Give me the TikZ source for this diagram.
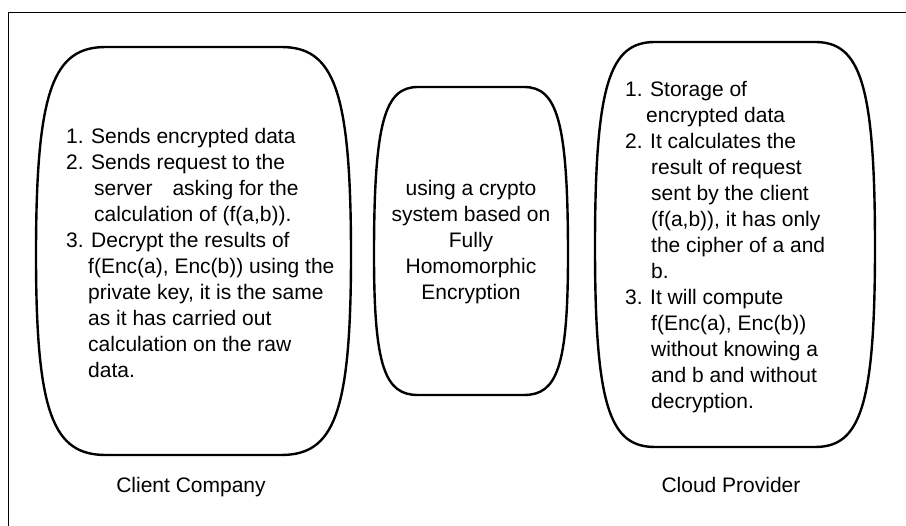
\documentclass[tikz,border=0pt]{standalone}
\usepackage{fontspec}
\setmainfont{Liberation Sans}
% rounded outline: left, right, top, bottom, corner width, height of widest point
\newcommand{\myblob}[6]{%
  \draw[myblobline] ({#1+#5},#3) -- ({#2-#5},#3)
  .. controls ({#2-0.25*#5},#3) and (#2,{#6-0.8*(#6-#3)}) .. (#2,#6)
  .. controls (#2,{#6+0.8*(#4-#6)}) and ({#2-0.25*#5},#4) .. ({#2-#5},#4)
  -- ({#1+#5},#4)
  .. controls ({#1+0.25*#5},#4) and (#1,{#6+0.8*(#4-#6)}) .. (#1,#6)
  .. controls (#1,{#6-0.8*(#6-#3)}) and ({#1+0.25*#5},#3) .. cycle;}
\newcommand{\mynum}[1]{\makebox[25pt][l]{#1}}
\newcommand{\myind}[1]{\hspace*{#1pt}}
\newcommand{\mycline}[1]{\hbox to 180pt{\hfil#1\hfil}}
\begin{document}
\begin{tikzpicture}[x=1pt,y=-1pt,
    myblobline/.style={line width=2.4pt},
    mytxt/.style={inner sep=0pt,font=\fontsize{21}{26}\selectfont}]
  \useasboundingbox (0,0) rectangle (906,526);
  \draw[line width=1pt] (906,12.5) -- (8,12.5) -- (8,526);
  \myblob{36}{351}{47}{455}{70}{255}
  \myblob{374}{568}{87}{395}{44}{255}
  \myblob{595}{875}{42}{447}{60}{247}
  \node[mytxt,anchor=base west] (clienttxt) at (66,143.3) {\vtop{%
      \hbox{\mynum{1.}Sends encrypted data}
      \hbox{\mynum{2.}Sends request to the}
      \hbox{\myind{28}server\hspace{20pt}asking for the}
      \hbox{\myind{28}calculation of (f(a,b)).}
      \hbox{\mynum{3.}Decrypt the results of}
      \hbox{\myind{22}f(Enc(a), Enc(b)) using the}
      \hbox{\myind{22}private key, it is the same}
      \hbox{\myind{22}as it has carried out}
      \hbox{\myind{22}calculation on the raw}
      \hbox{\myind{22}data.}}};
  \node[mytxt,anchor=base] (cryptotxt) at (471,196) {\vtop{%
      \mycline{using a crypto}
      \mycline{system based on}
      \mycline{Fully}
      \mycline{Homomorphic}
      \mycline{Encryption}}};
  \node[mytxt,anchor=base west] (cloudtxt) at (625,96.7) {\vtop{%
      \hbox{\mynum{1.}Storage of}
      \hbox{\myind{21}encrypted data}
      \hbox{\mynum{2.}It calculates the}
      \hbox{\myind{26}result of request}
      \hbox{\myind{26}sent by the client}
      \hbox{\myind{26}(f(a,b)), it has only}
      \hbox{\myind{26}the cipher of a and}
      \hbox{\myind{26}b.}
      \hbox{\mynum{3.}It will compute}
      \hbox{\myind{26}f(Enc(a), Enc(b))}
      \hbox{\myind{26}without knowing a}
      \hbox{\myind{26}and b and without}
      \hbox{\myind{26}decryption.}}};
  \node[mytxt,anchor=base] (clientlbl) at (191,493) {Client Company};
  \node[mytxt,anchor=base] (cloudlbl) at (731,493) {Cloud Provider};
\end{tikzpicture}
\end{document}
